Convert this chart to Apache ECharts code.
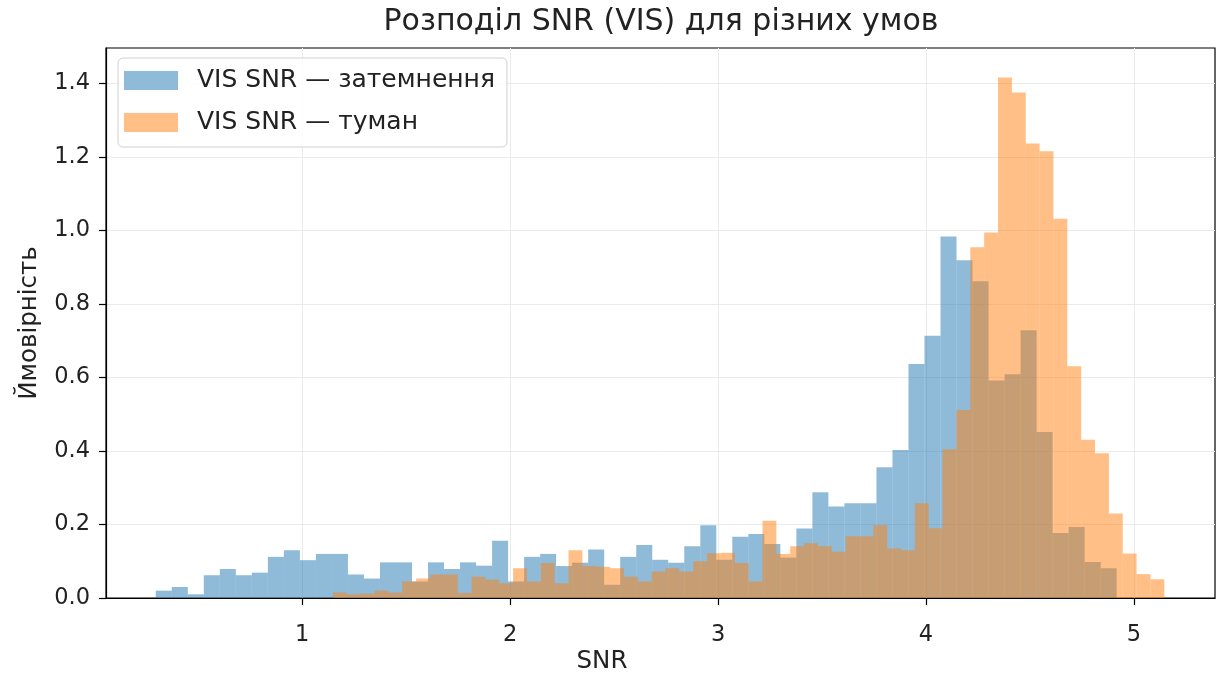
<!DOCTYPE html>
<html>
<head>
<meta charset="utf-8">
<script src="https://cdn.jsdelivr.net/npm/echarts@6/dist/echarts.min.js"></script>
<style>
html,body{margin:0;padding:0;background:#fff;}
#chart{width:1219px;height:680px;}
</style>
</head>
<body>
<div id="chart"></div>
<script>
// ---- data (histogram densities, 60 bins each) ----
const titleText = 'Розподіл SNR (VIS) для різних умов';
const xLabel = 'SNR';
const yLabel = 'Ймовірність';
const seriesNames = ['VIS SNR — затемнення', 'VIS SNR — туман'];
const xTicks = [1, 2, 3, 4, 5];
const yTicks = [0, 0.2, 0.4, 0.6, 0.8, 1.0, 1.2, 1.4];

const blueStart = 0.2953;
const blueBinWidth = 0.07703;
const blueDensity = [0.02,0.03,0.01,0.062,0.079,0.062,0.069,0.112,0.13,0.103,
  0.12,0.12,0.064,0.053,0.097,0.097,0.045,0.097,0.079,0.097,
  0.088,0.156,0.045,0.112,0.12,0.087,0.096,0.132,0.036,0.112,
  0.144,0.104,0.096,0.141,0.198,0.104,0.167,0.174,0.147,0.11,
  0.189,0.288,0.249,0.258,0.258,0.356,0.403,0.637,0.714,0.984,
  0.919,0.862,0.592,0.609,0.729,0.452,0.177,0.193,0.098,0.081];

const orangeStart = 1.1477;
const orangeBinWidth = 0.06664;
const orangeDensity = [0.015,0.01,0.012,0.02,0.015,0.045,0.053,0.064,0.064,0.014,
  0.058,0.05,0.04,0.081,0.045,0.095,0.04,0.13,0.087,0.085,
  0.081,0.058,0.045,0.072,0.081,0.072,0.1,0.122,0.123,0.095,
  0.045,0.21,0.12,0.141,0.149,0.141,0.126,0.168,0.168,0.198,
  0.135,0.13,0.258,0.19,0.405,0.512,0.955,0.995,1.417,1.376,
  1.237,1.216,1.032,0.631,0.431,0.394,0.23,0.121,0.065,0.051];

const xMin = 0.056, xMax = 5.39, yMin = 0, yMax = 1.497;

function bins(start, w, dens) {
  return dens.map((h, i) => [start + i * w, start + (i + 1) * w, h]);
}

const FONT = 'DejaVu Sans';
const chart = echarts.init(document.getElementById('chart'), null, {renderer: 'canvas'});

function histSeries(name, data, color) {
  return {
    name: name,
    type: 'custom',
    itemStyle: {color: color},
    encode: {x: [0, 1], y: 2},
    data: data,
    z: 2,
    renderItem: function (params, api) {
      const p0 = api.coord([api.value(0), api.value(2)]);
      const p1 = api.coord([api.value(1), 0]);
      return {
        type: 'rect',
        shape: {x: p0[0], y: p0[1], width: p1[0] - p0[0], height: p1[1] - p0[1]},
        style: {fill: color}
      };
    }
  };
}

const option = {
  animation: false,
  backgroundColor: '#ffffff',
  textStyle: {fontFamily: FONT},
  grid: {left: 106, right: 4, top: 48, bottom: 82, show: true, borderColor: '#000', borderWidth: 1.2, backgroundColor: 'transparent'},
  xAxis: {
    type: 'value', min: xMin, max: xMax,
    axisLine: {show: true, onZero: false, lineStyle: {color: '#000', width: 1.2}},
    axisTick: {show: true, length: 7, lineStyle: {color: '#000', width: 1.2}, customValues: xTicks},
    axisLabel: {customValues: xTicks, color: '#222', fontSize: 22.5, fontFamily: FONT, margin: 26, formatter: v => String(v)},
    splitLine: {show: true, lineStyle: {color: '#ebebeb', width: 1}}
  },
  yAxis: {
    type: 'value', min: yMin, max: yMax,
    axisLine: {show: true, lineStyle: {color: '#000', width: 1.2}},
    axisTick: {show: true, length: 7, lineStyle: {color: '#000', width: 1.2}, customValues: yTicks},
    axisLabel: {customValues: yTicks, color: '#222', fontSize: 22.5, fontFamily: FONT, margin: 16, formatter: v => v.toFixed(1)},
    splitLine: {show: true, lineStyle: {color: '#ebebeb', width: 1}},
    name: yLabel, nameLocation: 'middle', nameGap: 64, nameRotate: 90,
    nameTextStyle: {fontSize: 24.5, color: '#222', fontFamily: FONT}
  },
  legend: {
    show: true, orient: 'vertical', left: 118, top: 58,
    itemWidth: 54, itemHeight: 19, itemGap: 17,
    padding: [10, 12, 12, 6],
    backgroundColor: 'rgba(255,255,255,0.85)', borderColor: '#d0d0d0', borderWidth: 1, borderRadius: 5,
    textStyle: {fontSize: 25, color: '#222', fontFamily: FONT, padding: [0, 0, 0, 14]},
    data: [
      {name: seriesNames[0], icon: 'rect', itemStyle: {color: '#8fbbd9'}},
      {name: seriesNames[1], icon: 'rect', itemStyle: {color: '#ffbf86'}}
    ],
    z: 10
  },
  graphic: [
    {type: 'text', x: 661, y: 22, style: {text: titleText, fontSize: 30, fontFamily: FONT, fill: '#222', align: 'center', verticalAlign: 'middle'}},
    {type: 'text', x: 602, y: 662, style: {text: xLabel, fontSize: 24.5, fontFamily: FONT, fill: '#222', align: 'center', verticalAlign: 'middle'}}
  ],
  series: [
    histSeries(seriesNames[0], bins(blueStart, blueBinWidth, blueDensity), 'rgba(31,119,180,0.5)'),
    histSeries(seriesNames[1], bins(orangeStart, orangeBinWidth, orangeDensity), 'rgba(255,127,14,0.5)')
  ]
};
chart.setOption(option);
</script>
</body>
</html>
